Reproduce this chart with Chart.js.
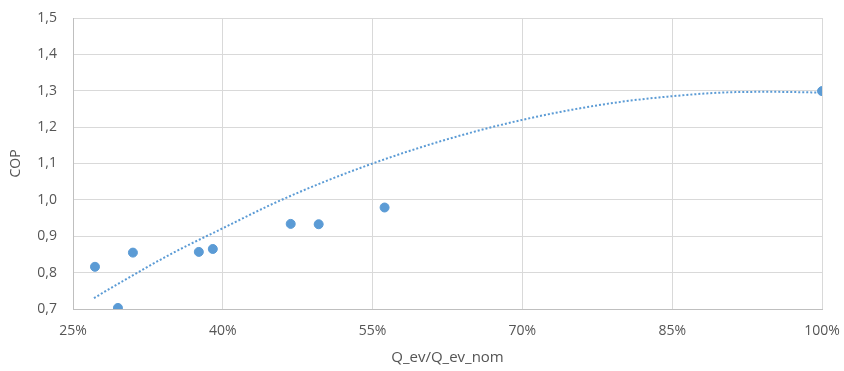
<!DOCTYPE html>
<html>
<head>
<meta charset="utf-8">
<script src="https://cdn.jsdelivr.net/npm/chart.js@4.4.0/dist/chart.umd.min.js"></script>
<style>
  html, body { margin: 0; padding: 0; background: #fff; }
  #wrap { width: 844px; height: 371px; }
</style>
</head>
<body>
<div id="wrap"><canvas id="graficoCop" width="844" height="371"></canvas></div>
<script>
// Medições (Q_ev/Q_ev_nom em %, COP)
const cargaPct = [27.2, 29.5, 31.0, 37.6, 39.0, 46.8, 49.6, 56.2, 100];
const copMedido = [0.816, 0.703, 0.855, 0.857, 0.865, 0.934, 0.933, 0.979, 1.299];

// Linha de tendência
const tendX = [27.1, 30, 35, 40, 45, 50, 55, 60, 65, 70, 75, 80, 85, 90, 95, 100];
const tendY = [0.730, 0.777, 0.854, 0.922, 0.989, 1.048, 1.100, 1.146, 1.186, 1.220, 1.248, 1.270, 1.285, 1.295, 1.297, 1.295];

const xTicks = [25, 40, 55, 70, 85, 100];

const azul = '#5b9bd5';
const corTexto = '#555555';
const fonte = { family: '"Open Sans", sans-serif', size: 14 };

function criarGrafico() {
    let ctx = document.getElementById('graficoCop').getContext('2d');

    new Chart(ctx, {
        type: 'scatter',
        data: {
            datasets: [
                {
                    label: 'COP',
                    data: cargaPct.map((x, i) => ({ x: x, y: copMedido[i] })),
                    backgroundColor: azul,
                    borderColor: azul,
                    pointRadius: 4.5,
                    pointHoverRadius: 4.5
                },
                {
                    label: 'Tendência',
                    type: 'line',
                    data: tendX.map((x, i) => ({ x: x, y: tendY[i] })),
                    borderColor: azul,
                    borderWidth: 2,
                    borderDash: [2, 2],
                    pointRadius: 0,
                    tension: 0.4,
                    cubicInterpolationMode: 'monotone',
                    fill: false
                }
            ]
        },
        options: {
            responsive: false,
            animation: false,
            layout: { padding: { left: 0, right: 22, top: 18, bottom: 0 } },
            scales: {
                x: {
                    type: 'linear',
                    min: 25,
                    max: 100,
                    afterBuildTicks: (axis) => { axis.ticks = xTicks.map(v => ({ value: v })); },
                    ticks: {
                        color: corTexto,
                        font: fonte,
                        padding: 14,
                        maxRotation: 0,
                        callback: (v) => v + '%'
                    },
                    grid: { color: '#d9d9d9', drawTicks: false },
                    border: { color: '#bfbfbf', width: 1 },
                    title: {
                        display: true,
                        text: 'Q_ev/Q_ev_nom',
                        color: corTexto,
                        font: { family: fonte.family, size: 15 },
                        padding: { top: 11 }
                    },
                    afterFit: (scale) => {
                        scale.height = 62;
                        scale.paddingLeft = 0;
                        scale.paddingRight = 0;
                    }
                },
                y: {
                    min: 0.7,
                    max: 1.5,
                    ticks: {
                        stepSize: 0.1,
                        color: corTexto,
                        font: fonte,
                        padding: 16,
                        callback: (v) => v.toFixed(1).replace('.', ',')
                    },
                    grid: { color: '#d9d9d9', drawTicks: false },
                    border: { color: '#bfbfbf', width: 1 },
                    title: {
                        display: true,
                        text: 'COP',
                        color: corTexto,
                        font: { family: fonte.family, size: 14 },
                        padding: { top: 8, bottom: 0 }
                    },
                    afterFit: (scale) => {
                        scale.width = 73;
                        scale.paddingTop = 0;
                        scale.paddingBottom = 0;
                    }
                }
            },
            plugins: {
                legend: { display: false },
                tooltip: { enabled: false }
            }
        }
    });
}

document.addEventListener('DOMContentLoaded', () => {
    criarGrafico();
});
</script>
</body>
</html>
